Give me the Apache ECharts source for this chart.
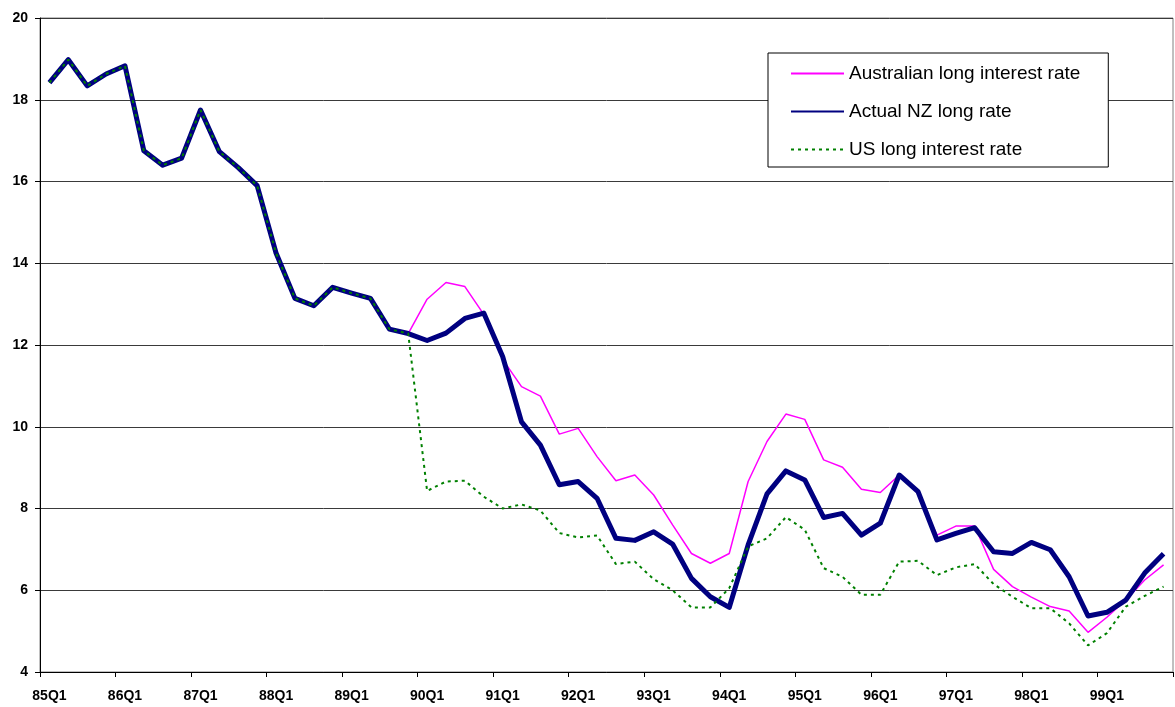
<!DOCTYPE html>
<html>
<head>
<meta charset="utf-8">
<script src="https://cdn.jsdelivr.net/npm/echarts@6/dist/echarts.min.js"></script>
<style>
  html, body { margin: 0; padding: 0; background: #fff; }
  #chart { width: 1175px; height: 707px; }
</style>
</head>
<body>
<div id="chart"></div>
<script>
// quarters 85Q1 .. 99Q4
const quarters = [
  '85Q1', '85Q2', '85Q3', '85Q4', '86Q1', '86Q2', '86Q3', '86Q4',
  '87Q1', '87Q2', '87Q3', '87Q4', '88Q1', '88Q2', '88Q3', '88Q4',
  '89Q1', '89Q2', '89Q3', '89Q4', '90Q1', '90Q2', '90Q3', '90Q4',
  '91Q1', '91Q2', '91Q3', '91Q4', '92Q1', '92Q2', '92Q3', '92Q4',
  '93Q1', '93Q2', '93Q3', '93Q4', '94Q1', '94Q2', '94Q3', '94Q4',
  '95Q1', '95Q2', '95Q3', '95Q4', '96Q1', '96Q2', '96Q3', '96Q4',
  '97Q1', '97Q2', '97Q3', '97Q4', '98Q1', '98Q2', '98Q3', '98Q4',
  '99Q1', '99Q2', '99Q3', '99Q4'
]

// Australian long interest rate
const ausRate = [
  18.42, 18.98, 18.34, 18.63, 18.83, 16.75, 16.40, 16.57,
  17.75, 16.73, 16.34, 15.90, 14.25, 13.14, 12.96, 13.41,
  13.27, 13.14, 12.39, 12.28, 13.12, 13.53, 13.43, 12.75,
  11.65, 10.98, 10.75, 9.82, 9.96, 9.27, 8.68, 8.82,
  8.33, 7.60, 6.90, 6.66, 6.90, 8.66, 9.64, 10.31,
  10.18, 9.19, 9.01, 8.47, 8.39, 8.82, 8.37, 7.35,
  7.57, 7.57, 6.51, 6.09, 5.83, 5.60, 5.49, 4.97,
  5.34, 5.76, 6.25, 6.62
]

// Actual NZ long rate
const nzRate = [
  18.42, 18.98, 18.34, 18.63, 18.83, 16.75, 16.40, 16.57,
  17.75, 16.73, 16.34, 15.90, 14.25, 13.14, 12.96, 13.41,
  13.27, 13.14, 12.39, 12.28, 12.11, 12.29, 12.65, 12.78,
  11.72, 10.12, 9.55, 8.58, 8.66, 8.25, 7.27, 7.22,
  7.43, 7.13, 6.29, 5.84, 5.58, 7.11, 8.36, 8.92,
  8.70, 7.78, 7.88, 7.35, 7.64, 8.82, 8.41, 7.23,
  7.39, 7.53, 6.94, 6.90, 7.17, 6.99, 6.33, 5.37,
  5.46, 5.76, 6.42, 6.89
]

// US long interest rate
const usRate = [
  18.42, 18.98, 18.34, 18.63, 18.83, 16.75, 16.40, 16.57,
  17.75, 16.73, 16.34, 15.90, 14.25, 13.14, 12.96, 13.41,
  13.27, 13.14, 12.39, 12.28, 8.43, 8.66, 8.68, 8.29,
  8.00, 8.10, 7.95, 7.40, 7.29, 7.34, 6.64, 6.70,
  6.27, 6.00, 5.58, 5.58, 6.05, 7.07, 7.27, 7.79,
  7.48, 6.54, 6.33, 5.89, 5.89, 6.70, 6.72, 6.37,
  6.56, 6.64, 6.15, 5.84, 5.56, 5.56, 5.19, 4.65,
  4.95, 5.60, 5.86, 6.09
]

const font = '"Liberation Sans", Arial, sans-serif'

const chart = echarts.init(document.getElementById('chart'))

const option = {
  backgroundColor: '#fff',
  animation: false,
  textStyle: { fontFamily: font },
  grid: {
    left: 40,
    right: 2,
    top: 18,
    bottom: 35,
    show: true,
    borderColor: '#808080',
    borderWidth: 1
  },
  legend: {
    data: ['Australian long interest rate', 'Actual NZ long rate', 'US long interest rate'],
    orient: 'vertical',
    left: 768,
    top: 53,
    padding: [11, 28, 8, 22],
    itemGap: 19,
    itemWidth: 53,
    itemHeight: 14,
    itemStyle: { opacity: 0 },
    backgroundColor: '#fff',
    borderColor: '#000',
    borderWidth: 1,
    borderRadius: 0,
    textStyle: { fontSize: 19, color: '#000', fontFamily: font }
  },
  xAxis: {
    type: 'category',
    data: quarters,
    boundaryGap: true,
    axisLine: { lineStyle: { color: '#000', width: 1 } },
    axisTick: { show: true, interval: 3, length: 5, lineStyle: { color: '#000' } },
    axisLabel: {
      interval: 3,
      margin: 17,
      fontSize: 14,
      fontWeight: 'bold',
      color: '#000',
      fontFamily: font
    },
    splitLine: { show: false }
  },
  yAxis: {
    type: 'value',
    min: 4,
    max: 20,
    interval: 2,
    axisLine: { show: true, lineStyle: { color: '#000', width: 1 } },
    axisTick: { show: true, length: 5, lineStyle: { color: '#000' } },
    axisLabel: {
      margin: 12,
      fontSize: 14,
      fontWeight: 'bold',
      color: '#000',
      fontFamily: font
    },
    splitLine: { show: true, lineStyle: { color: '#3a3a3a', width: 1 } }
  },
  series: [
    {
      name: 'Australian long interest rate',
      type: 'line',
      data: ausRate,
      symbol: 'none',
      lineStyle: { color: '#FF00FF', width: 1.5 },
      itemStyle: { color: '#FF00FF' },
      z: 2
    },
    {
      name: 'Actual NZ long rate',
      type: 'line',
      data: nzRate,
      symbol: 'none',
      lineStyle: { color: '#000080', width: 5, join: 'round' },
      itemStyle: { color: '#000080' },
      z: 3
    },
    {
      name: 'US long interest rate',
      type: 'line',
      data: usRate,
      symbol: 'none',
      lineStyle: { color: '#008000', width: 2, type: [3, 4] },
      itemStyle: { color: '#008000' },
      z: 4
    }
  ]
}

chart.setOption(option)
</script>
</body>
</html>
